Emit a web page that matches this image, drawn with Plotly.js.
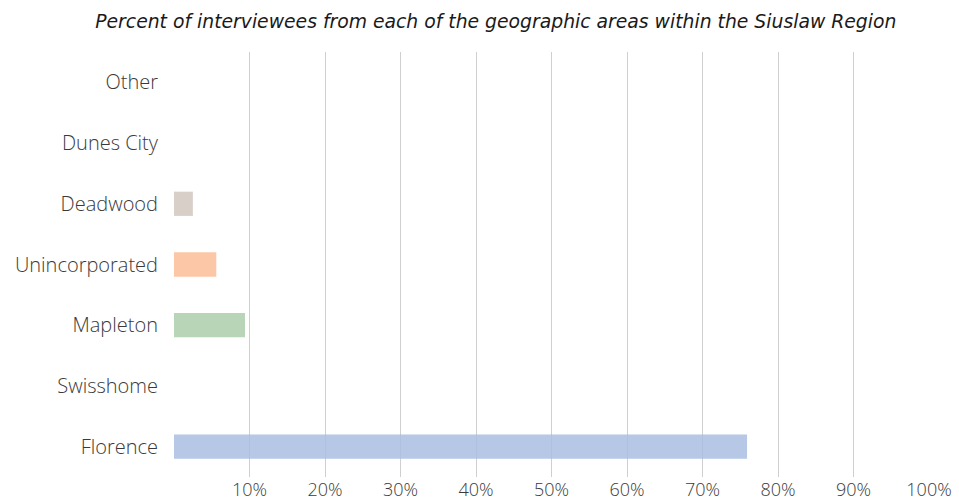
<!DOCTYPE html>
<html>
<head>
<meta charset="utf-8">
<script src="https://cdn.plot.ly/plotly-3.0.1.min.js"></script>
<style>html,body{margin:0;padding:0;background:#fff;}#chart{width:959px;height:500px;}</style>
</head>
<body>
<div id="chart"></div>
<script>
const categories = ["Florence", "Swisshome", "Mapleton", "Unincorporated", "Deadwood", "Dunes City", "Other"];
const percentValues = [75.9, 0, 9.4, 5.6, 2.5, 0, 0];
const barColors = ["#aabde2", "#d9d9d9", "#acceac", "#fbbd98", "#d2c7bf", "#d9d9d9", "#d9d9d9"];
const tickValues = [10, 20, 30, 40, 50, 60, 70, 80, 90, 100];
const tickLabels = ["10%", "20%", "30%", "40%", "50%", "60%", "70%", "80%", "90%", "100%"];

const fontFam = "'Open Sans', sans-serif";

Plotly.newPlot("chart", [{
  type: "bar",
  orientation: "h",
  x: percentValues,
  y: categories,
  marker: {color: barColors, opacity: 0.85},
  hoverinfo: "x+y"
}], {
  width: 959,
  height: 500,
  margin: {l: 174, r: 30, t: 52, b: 23},
  paper_bgcolor: "#fff",
  plot_bgcolor: "#fff",
  bargap: 0.6,
  showlegend: false,
  title: {
    text: "Percent of interviewees from each of the geographic areas within the Siuslaw Region",
    font: {family: "'DejaVu Sans', sans-serif", size: 18.8, color: "#1a1a1a", style: "italic"},
    x: 0.517, xanchor: "center", y: 0.958, yanchor: "middle"
  },
  xaxis: {
    range: [0, 100],
    tickvals: tickValues,
    ticktext: tickLabels,
    showgrid: true,
    gridcolor: "#cfcfcf",
    gridwidth: 1,
    zeroline: false,
    showline: false,
    ticks: "",
    ticklabelstandoff: 0,
    tickfont: {family: fontFam, size: 18, color: "#3a3a3a", weight: 300},
    fixedrange: true
  },
  yaxis: {
    type: "category",
    categoryorder: "array",
    categoryarray: categories,
    showgrid: false,
    zeroline: false,
    showline: false,
    ticks: "",
    ticklabelstandoff: 15,
    tickfont: {family: fontFam, size: 20, color: "#3a3a3a", weight: 300},
    fixedrange: true
  }
}, {displayModeBar: false, staticPlot: true});
</script>
</body>
</html>
